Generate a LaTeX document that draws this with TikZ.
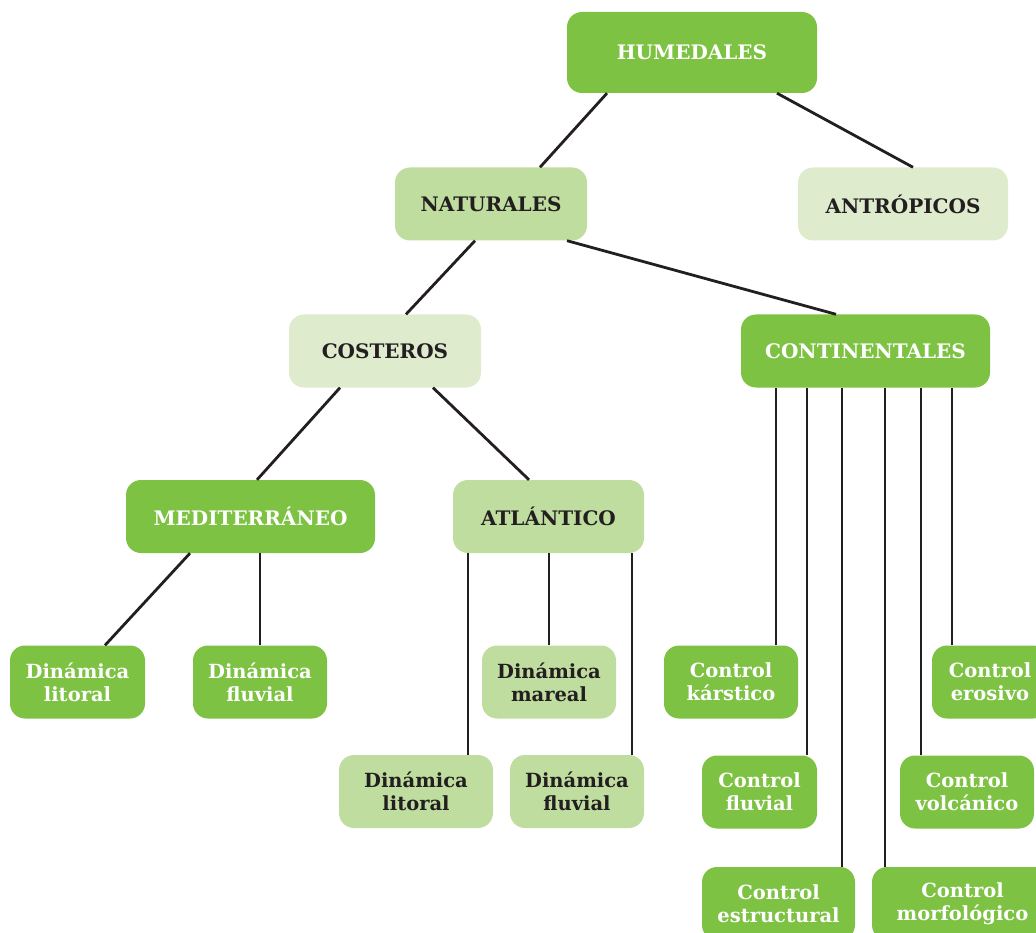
\documentclass[tikz,border=0pt]{standalone}
\usepackage{fontspec}
\setmainfont{DejaVu Serif}
\usepackage{xcolor}

\definecolor{verdeosc}{HTML}{7DC243}
\definecolor{verdemed}{HTML}{BFDD9F}
\definecolor{verdecla}{HTML}{DEEBCD}
\definecolor{tinta}{HTML}{231F20}

\begin{document}
\begin{tikzpicture}[x=1pt,y=-1pt,
    caja/.style={rounded corners=15pt, minimum height=73pt, align=center, inner sep=0pt, font=\bfseries\fontsize{20}{22}\selectfont},
    oscura/.style={caja, fill=verdeosc, text=white},
    media/.style={caja, fill=verdemed, text=tinta},
    clara/.style={caja, fill=verdecla, text=tinta},
    hoja/.style={font=\bfseries\fontsize{19.5}{23}\selectfont},
    linea/.style={draw=tinta, line width=2.8pt}]
                \useasboundingbox (0,0) rectangle (1036,933);
                % niveles superiores
                \node[oscura, minimum width=250pt, minimum height=81pt] (hum) at (692,52.5) {HUMEDALES};
                \node[media, minimum width=192pt] (nat) at (491,204) {NATURALES};
                \node[clara, minimum width=210pt] (antr) at (903,204) {ANTRÓPICOS};
                \node[clara, minimum width=192pt] (cos) at (385,351) {COSTEROS};
                \node[oscura, minimum width=249pt] (cont) at (865.5,351) {CONTINENTALES};
                \node[oscura, minimum width=249pt] (med) at (250.5,516.5) {MEDITERRÁNEO};
                \node[media, minimum width=191pt] (atl) at (548.5,516.5) {ATLÁNTICO};
                % dinamicas
                \node[oscura, hoja, minimum width=135pt] (dl1) at (77.5,682) {Dinámica\\litoral};
                \node[oscura, hoja, minimum width=134pt] (df1) at (260,682) {Dinámica\\fluvial};
                \node[media, hoja, minimum width=134pt] (dm) at (549,682) {Dinámica\\mareal};
                \node[media, hoja, minimum width=154pt] (dl2) at (416,791.5) {Dinámica\\litoral};
                \node[media, hoja, minimum width=134pt] (df2) at (577,791.5) {Dinámica\\fluvial};
                % controles
                \node[oscura, hoja, minimum width=134pt] (ck) at (731,682) {Control\\kárstico};
                \node[oscura, hoja, minimum width=116pt] (cer) at (990,682) {Control\\erosivo};
                \node[oscura, hoja, minimum width=115pt] (cf) at (759.5,792) {Control\\fluvial};
                \node[oscura, hoja, minimum width=134pt] (cv) at (967,792) {Control\\volcánico};
                \node[oscura, hoja, minimum width=153pt] (ce) at (778.5,903.5) {Control\\estructural};
                \node[oscura, hoja, minimum width=181pt] (cm) at (962.5,903.5) {Control\\morfológico};
                % conectores
                \draw[linea] ([xshift=-85pt]hum.south) -- ([xshift=49pt]nat.north);
                \draw[linea] ([xshift=85pt]hum.south) -- ([xshift=10pt]antr.north);
                \draw[linea] ([xshift=-16pt]nat.south) -- ([xshift=21pt]cos.north);
                \draw[linea] ([xshift=76pt]nat.south) -- ([xshift=-29.5pt]cont.north);
                \draw[linea] ([xshift=-45pt]cos.south) -- ([xshift=6.5pt]med.north);
                \draw[linea] ([xshift=48pt]cos.south) -- ([xshift=-19.5pt]atl.north);
                \draw[linea] ([xshift=-60.5pt]med.south) -- ([xshift=27.5pt]dl1.north);
                \draw[linea] (df1.north) -- (df1.north |- med.south);
                \draw[linea] ([xshift=52pt]dl2.north) -- ([xshift=52pt]dl2.north |- atl.south);
                \draw[linea] (dm.north) -- (dm.north |- atl.south);
                \draw[linea] ([xshift=55pt]df2.north) -- ([xshift=55pt]df2.north |- atl.south);
                \draw[linea] ([xshift=45pt]ck.north) -- ([xshift=45pt]ck.north |- cont.south);
                \draw[linea] ([xshift=47.5pt]cf.north) -- ([xshift=47.5pt]cf.north |- cont.south);
                \draw[linea] ([xshift=63.5pt]ce.north) -- ([xshift=63.5pt]ce.north |- cont.south);
                \draw[linea] ([xshift=-77.5pt]cm.north) -- ([xshift=-77.5pt]cm.north |- cont.south);
                \draw[linea] ([xshift=-46pt]cv.north) -- ([xshift=-46pt]cv.north |- cont.south);
                \draw[linea] ([xshift=-38pt]cer.north) -- ([xshift=-38pt]cer.north |- cont.south);
            \end{tikzpicture}
\end{document}
